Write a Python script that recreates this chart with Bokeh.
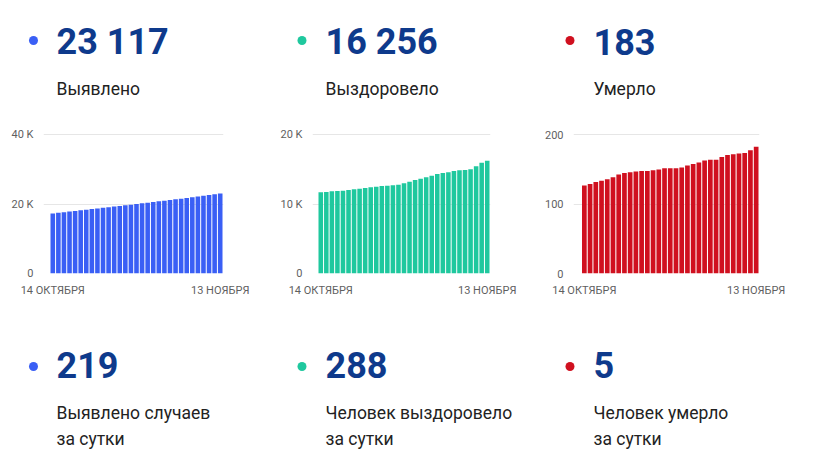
from bokeh.plotting import figure
from bokeh.layouts import column, row
from bokeh.models import Range1d, FixedTicker
from bokeh.embed import file_html
from bokeh.resources import INLINE
from bokeh.core.properties import value

# ---------------- data ----------------
totals = ["23 117", "16 256", "183"]
total_labels = ["Выявлено", "Выздоровело", "Умерло"]
daily = ["219", "288", "5"]
daily_line1 = ["Выявлено случаев", "Человек выздоровело", "Человек умерло"]
daily_line2 = ["за сутки", "за сутки", "за сутки"]
date_labels = ["14 ОКТЯБРЯ", "13 НОЯБРЯ"]

confirmed = [17340, 17512, 17695, 17861, 18040, 18228, 18395, 18577, 18768, 18940,
             19118, 19309, 19497, 19676, 19861, 20049, 20247, 20431, 20618, 20815,
             21012, 21198, 21391, 21596, 21789, 21982, 22188, 22420, 22655, 22898, 23117]
recovered = [11710, 11758, 11855, 11903, 11951, 12048, 12144, 12240, 12337, 12433,
             12530, 12626, 12674, 12722, 12818, 13011, 13252, 13493, 13686, 13879,
             14120, 14361, 14505, 14602, 14795, 14891, 14939, 15035, 15480, 15968, 16256]
deaths = [127, 129, 132, 134, 136, 139, 143, 145, 146, 147,
          148, 148, 149, 150, 152, 152, 152, 153, 156, 158,
          160, 163, 164, 164, 168, 171, 172, 173, 174, 178, 183]

ticks_confirmed = [0, 20000, 40000]
tick_labels_confirmed = ["0", "20 K", "40 K"]
ticks_recovered = [0, 10000, 20000]
tick_labels_recovered = ["0", "10 K", "20 K"]
ticks_deaths = [0, 100, 200]
tick_labels_deaths = ["0", "100", "200"]

# ---------------- style ----------------
colors = ["#3a5ff5", "#1fc89e", "#d0101f"]
NUM_COLOR = "#0e3a8c"
LABEL_COLOR = "#222222"
AXIS_TEXT = "#5f5f5f"
FONT = "Roboto"
W = 820


def text_fig(height, y_top):
    p = figure(width=W, height=height, x_range=Range1d(0, W),
               y_range=Range1d(y_top + height, y_top),
               toolbar_location=None, output_backend="svg", min_border=0)
    p.axis.visible = False
    p.grid.visible = False
    p.outline_line_color = None
    p.background_fill_color = "white"
    return p


dot_x = [33, 301.5, 569.5]
text_x = [56, 325, 593]

# top block
top = text_fig(115, 0)
top.scatter(x=dot_x, y=[40] * 3, size=9, color=colors, line_color=None)
top.text(x=text_x, y=[41.5] * 3, text=totals, text_font=value(FONT),
         text_font_style="bold", text_font_size="36px", text_color=NUM_COLOR,
         text_baseline="alphabetic")
top.text(x=text_x, y=[88] * 3, text=total_labels, text_font=value(FONT),
         text_font_size="17.5px", text_color=LABEL_COLOR, text_baseline="alphabetic")

# bottom block
bot = text_fig(156, 305)
bot.scatter(x=dot_x, y=[366] * 3, size=9, color=colors, line_color=None)
bot.text(x=text_x, y=[364] * 3, text=daily, text_font=value(FONT),
         text_font_style="bold", text_font_size="36px", text_color=NUM_COLOR,
         text_baseline="alphabetic")
bot.text(x=text_x, y=[412] * 3, text=daily_line1, text_font=value(FONT),
         text_font_size="17.5px", text_color=LABEL_COLOR, text_baseline="alphabetic")
bot.text(x=text_x, y=[438.5] * 3, text=daily_line2, text_font=value(FONT),
         text_font_size="17.5px", text_color=LABEL_COLOR, text_baseline="alphabetic")


def chart(values, color, ticks, tick_labels, width, b_left, b_right, pad_left, pad_right):
    n = len(values)
    bw = 0.82
    frame_w = width - b_left - b_right
    bars_px = frame_w - pad_left - pad_right
    upp = (n - 1 + bw) / bars_px
    x0 = -bw / 2 - pad_left * upp
    x1 = n - 1 + bw / 2 + pad_right * upp
    p = figure(width=width, height=190, x_range=Range1d(x0, x1),
               y_range=Range1d(0, ticks[-1] * 1.01),
               toolbar_location=None, output_backend="svg",
               min_border_left=b_left, min_border_right=b_right,
               min_border_top=18, min_border_bottom=32)
    p.outline_line_color = None
    p.vbar(x=list(range(n)), top=values, width=bw, bottom=0, color=color, line_color=None)
    p.xgrid.visible = False
    p.ygrid.ticker = FixedTicker(ticks=ticks)
    p.ygrid.grid_line_color = "#e6e6e6"
    p.yaxis.ticker = FixedTicker(ticks=ticks)
    p.yaxis.major_label_overrides = {t: l for t, l in zip(ticks, tick_labels)}
    p.xaxis.ticker = FixedTicker(ticks=[0, n - 1])
    p.xaxis.major_label_overrides = {0: date_labels[0], n - 1: date_labels[1]}
    for ax in (p.xaxis[0], p.yaxis[0]):
        ax.axis_line_color = None
        ax.major_tick_line_color = None
        ax.minor_tick_line_color = None
        ax.major_label_text_font = FONT
        ax.major_label_text_font_size = "11px"
        ax.major_label_text_color = AXIS_TEXT
    p.yaxis.major_label_standoff = 4
    p.xaxis.major_label_standoff = 4
    return p


c1 = chart(confirmed, colors[0], ticks_confirmed, tick_labels_confirmed, 270, 43, 47, 7, 1)
c2 = chart(recovered, colors[1], ticks_recovered, tick_labels_recovered, 270, 42, 50, 6, 1)
c3 = chart(deaths, colors[2], ticks_deaths, tick_labels_deaths, 280, 33, 61, 8.5, 1)

layout = column(top, row(c1, c2, c3, spacing=0), bot, spacing=0)
open("out.html", "w").write(file_html(layout, INLINE))
